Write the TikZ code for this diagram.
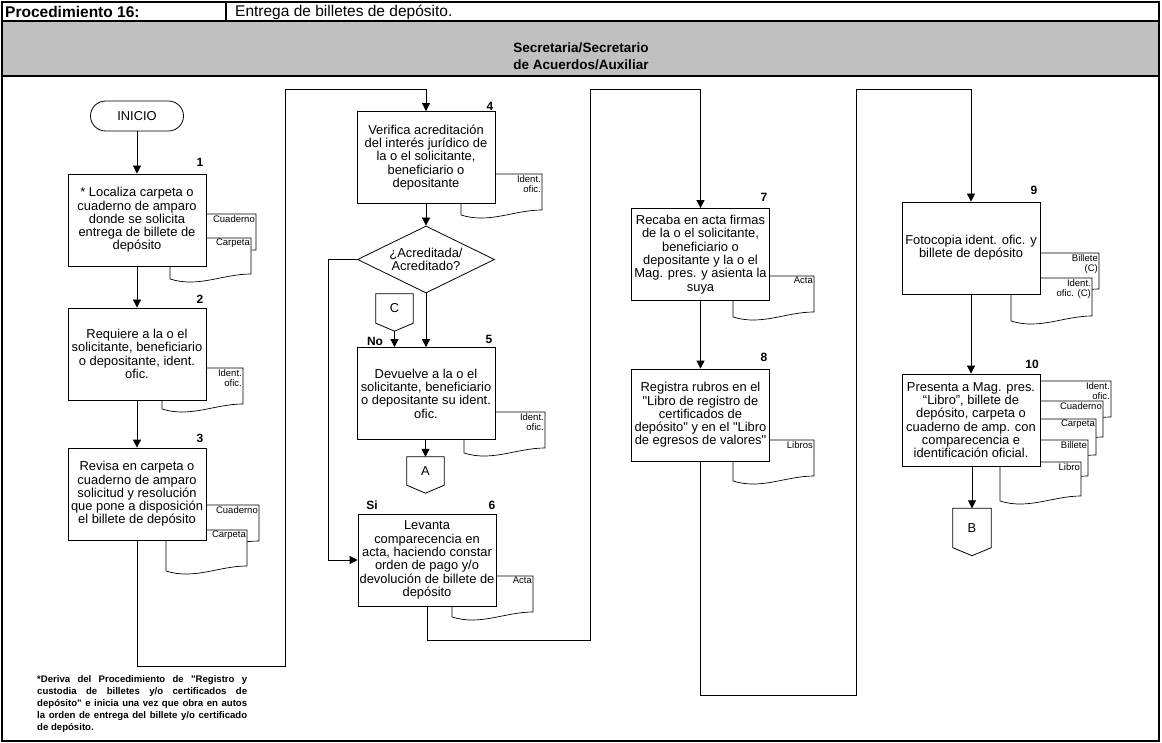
\documentclass[tikz,border=0pt]{standalone}
\usepackage{fontspec}
\setmainfont{Liberation Sans}[Ligatures=TeXOff]
\usetikzlibrary{arrows.meta,shapes.geometric,calc}

% document symbol: rectangle with a wavy lower edge, label in the upper right corner
\newcommand{\docsheet}[6]{%
  \pgfmathsetmacro{\dsR}{#2+#4}%
  \pgfmathsetmacro{\dsB}{#3+#5}%
  \pgfmathsetmacro{\dsCa}{#2+0.65*#4}%
  \pgfmathsetmacro{\dsCb}{#2+0.35*#4}%
  \pgfmathsetmacro{\dsBa}{#3+#5+14}%
  \pgfmathsetmacro{\dsBb}{#3+#5+5}%
  \filldraw[sheet] (#2,#3) -- (\dsR,#3) -- (\dsR,\dsB) .. controls (\dsCa,\dsB) and (\dsCb,\dsBa) .. (#2,\dsBb) -- cycle;
  \node[sheettext, anchor=north east] (#1) at (\dsR,#3) {#6};}

% off-page connector: box with a pointed lower edge
\newcommand{\offpage}[1]{%
  \draw[line width=0.8pt] (#1.north west) -- (#1.north east) -- (#1.south east)
    -- ($(#1.south)+(0,8)$) -- (#1.south west) -- cycle;
  \coordinate (#1tip) at ($(#1.south)+(0,8)$);}

\begin{document}
\begin{tikzpicture}[x=1pt,y=-1pt,
  every node/.style={inner sep=1pt},
  proc/.style={draw, fill=white, line width=0.8pt, minimum width=138, minimum height=92,
    align=center, font=\fontsize{12.9}{13.3}\selectfont},
  decision/.style={draw, fill=white, line width=0.8pt, shape=diamond, aspect=2.04,
    minimum width=137, minimum height=67, inner sep=0pt, align=center,
    font=\fontsize{12.9}{13.3}\selectfont},
  term/.style={draw, fill=white, line width=0.8pt, rounded corners=15pt, minimum width=93,
    minimum height=30, font=\fontsize{12.9}{14}\selectfont},
  offp/.style={minimum width=37, inner sep=0pt, font=\fontsize{12.9}{14}\selectfont},
  sheet/.style={draw=black, fill=white, line width=0.7pt},
  sheettext/.style={align=right, inner sep=1pt, font=\fontsize{9.5}{10}\selectfont},
  num/.style={font=\bfseries\fontsize{12}{14}\selectfont},
  arr/.style={line width=0.8pt, -{Triangle[length=8pt,width=8pt]}},
  frame/.style={line width=1.1pt}]

\useasboundingbox (0,0) rectangle (1162,743);

% ---------- header ----------
\fill[white] (0,0) rectangle (1162,743);
\fill[fill={rgb,255:red,192;green,192;blue,192}] (2,21) rectangle (1159,76);
\draw[frame] (2,2) rectangle (1159,741);
\draw[frame] (2,21) -- (1159,21);
\draw[frame] (2,76) -- (1159,76);
\draw[frame] (226,2) -- (226,21);
\node[anchor=west, font=\bfseries\fontsize{15.5}{17}\selectfont] (proc) at (4,12) {Procedimiento 16:};
\node[anchor=west, font=\fontsize{15.5}{17}\selectfont] (titulo) at (234,12) {Entrega de billetes de depósito.};
\node[align=center, font=\bfseries\fontsize{13.5}{17}\selectfont] (area) at (581,56) {Secretaria/Secretario\\de Acuerdos/Auxiliar};

% ---------- documents (behind the activity boxes) ----------
\docsheet{d1a}{175}{214}{81}{36}{Cuaderno}
\docsheet{d1b}{170}{238}{81}{36}{Carpeta}
\docsheet{d2a}{162}{368}{81}{36}{Ident.\\ofic.}
\docsheet{d3a}{178}{505}{81}{36}{Cuaderno}
\docsheet{d3b}{166}{530}{81}{36}{Carpeta}
\docsheet{d4a}{461}{174}{81}{36}{Ident.\\ofic.}
\docsheet{d5a}{464}{412}{81}{36}{Ident.\\ofic.}
\docsheet{d6a}{452}{576}{81}{36}{Acta}
\docsheet{d7a}{733}{276}{81}{36}{Acta}
\docsheet{d8a}{733}{440}{81}{36}{Libros}
\docsheet{d9a}{1018}{253}{81}{36}{Billete\\(C)}
\docsheet{d9b}{1011}{278}{81}{38}{Ident.\\ofic. (C)}
\docsheet{d10a}{1030}{381}{81}{36}{Ident.\\ofic.}
\docsheet{d10b}{1022}{401}{81}{36}{Cuaderno}
\docsheet{d10c}{1015}{419}{81}{36}{Carpeta}
\docsheet{d10d}{1007}{440}{81}{36}{Billete}
\docsheet{d10e}{1000}{462}{81}{34}{Libro}

% ---------- activities ----------
\node[term] (inicio) at (137,116) {INICIO};
\node[proc] (B1) at (137,220) {* Localiza carpeta o\\cuaderno de amparo\\donde se solicita\\entrega de billete de\\depósito};
\node[proc] (B2) at (137,354) {Requiere a la o el\\solicitante, beneficiario\\o depositante, ident.\\ofic.};
\node[proc] (B3) at (137,494) {Revisa en carpeta o\\cuaderno de amparo\\solicitud y resolución\\que pone a disposición\\el billete de depósito};
\node[proc] (B4) at (426,157.5) {Verifica acreditación\\del interés jurídico de\\la o el solicitante,\\beneficiario o\\depositante};
\node[decision] (D) at (426,259.5) {¿Acreditada/\\Acreditado?};
\node[proc] (B5) at (426,393.5) {Devuelve a la o el\\solicitante, beneficiario\\o depositante su ident.\\ofic.};
\node[proc] (B6) at (427,560) {Levanta\\comparecencia en\\acta, haciendo constar\\orden de pago y/o\\devolución de billete de\\depósito};
\node[proc] (B7) at (700.5,254.5) {Recaba en acta firmas\\de la o el solicitante,\\beneficiario o\\depositante y la o el\\Mag. pres. y asienta la\\suya};
\node[proc] (B8) at (700.5,415) {Registra rubros en el\\"Libro de registro de\\certificados de\\depósito" y en el "Libro\\de egresos de valores"};
\node[proc] (B9) at (971,248) {Fotocopia ident. ofic. y\\billete de depósito};
\node[proc] (B10) at (971,420) {Presenta a Mag. pres.\\“Libro”, billete de\\depósito, carpeta o\\cuaderno de amp. con\\comparecencia e\\identificación oficial.};

% off-page connectors
\node[offp, minimum height=29] (C) at (394.5,308.5) {C};
\offpage{C}
\node[offp, minimum height=28] (A) at (425.5,471) {A};
\offpage{A}
\node[offp, minimum width=38, minimum height=39] (B) at (972,528) {B};
\offpage{B}

% step numbers and branch labels
\node[num] (n1) at (200,162) {1};
\node[num] (n2) at (200,299) {2};
\node[num] (n3) at (200,438) {3};
\node[num] (n4) at (490,106) {4};
\node[num] (n5) at (489,339) {5};
\node[num] (n6) at (492,505) {6};
\node[num] (n7) at (764,197) {7};
\node[num] (n8) at (764,357) {8};
\node[num] (n9) at (1034,190) {9};
\node[num] (n10) at (1032,364) {10};
\node[num] (no) at (375,341) {No};
\node[num] (si) at (372,505) {Si};

% ---------- connectors ----------
\coordinate (k1) at (285,666);
\coordinate (k2) at (285,89);
\coordinate (k3) at (328,259.5);
\coordinate (k4) at (590,640);
\coordinate (k5) at (590,89);
\coordinate (k6) at (856,695);
\coordinate (k7) at (856,89);

\draw[arr] (inicio) -- (B1);
\draw[arr] (B1) -- (B2);
\draw[arr] (B2) -- (B3);
\draw[arr] (B3.south) |- (k1) -- (k2) -| (B4.north);
\draw[arr] (B4) -- (D);
\draw[arr] (D.south) -- (B5.north -| D.south);
\draw[arr] (D.west) -- (k3) |- (B6.west);
\draw[arr] (Ctip) -- (Ctip |- B5.north);
\draw[arr] (B5.south -| A.north) -- (A.north);
\draw[arr] (B6.south) |- (k4) -- (k5) -| (B7.north);
\draw[arr] (B7) -- (B8);
\draw[arr] (B8.south) |- (k6) -- (k7) -| (B9.north);
\draw[arr] (B9) -- (B10);
\draw[arr] (B10.south -| B.north) -- (B.north);

% ---------- note ----------
\node[anchor=north west, text width=210, align=justify, inner sep=0pt,
  font=\bfseries\fontsize{9.6}{12}\selectfont] (nota) at (37,675)
  {*Deriva del Procedimiento de "Registro y\linebreak custodia de billetes y/o certificados de\linebreak depósito" e inicia una vez que obra en autos\linebreak la orden de entrega del billete y/o certificado\linebreak de depósito.};

\end{tikzpicture}
\end{document}
